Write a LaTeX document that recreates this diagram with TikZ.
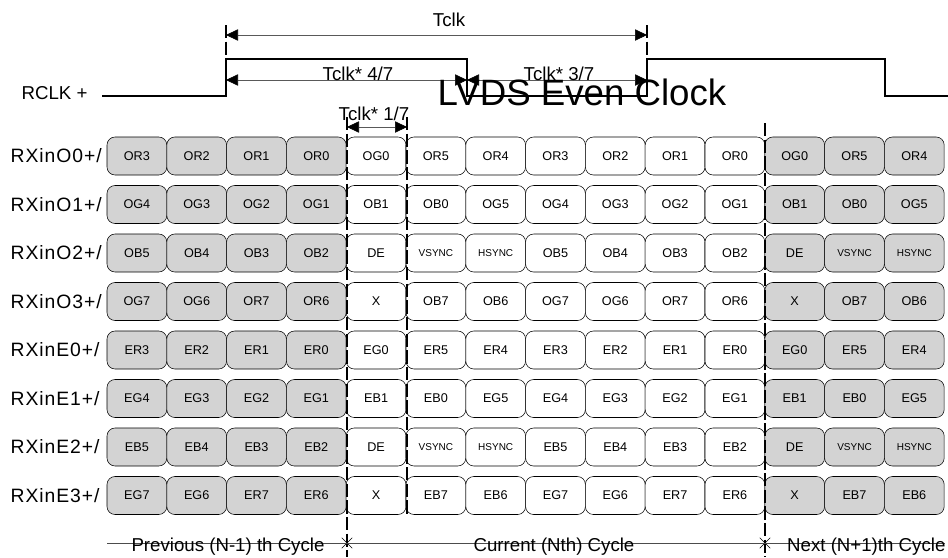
\documentclass[tikz,border=0pt]{standalone}
\usepackage{fontspec}
\setmainfont{Liberation Sans}
\usetikzlibrary{arrows.meta,positioning,calc,shapes.misc}
\definecolor{cellgray}{HTML}{D3D3D3}
\newcommand\syncfont{\fontsize{7.5}{8}\selectfont}
\newcommand\VS{{\syncfont VSYNC}}
\newcommand\HS{{\syncfont HSYNC}}

\begin{document}
\begin{tikzpicture}[x=0.75pt, y=-0.75pt,
  cell/.style={draw, rounded corners=6pt, minimum width=44.85pt, minimum height=28.5pt, inner sep=0pt, font=\fontsize{9.5}{10}\selectfont},
  sig/.style={font=\fontsize{14}{16}\selectfont, inner sep=1pt},
  lane/.style={font=\fontsize{14.5}{16}\selectfont\addfontfeatures{LetterSpace=5}, inner sep=1pt},
  tick/.style={line width=1.6pt, dash pattern=on 10pt off 2.5pt},
  dim/.style={{Triangle[length=9pt,width=8.5pt,color=black]}-{Triangle[length=9pt,width=8.5pt,color=black]}, black!65},
  wave/.style={line width=0.8pt},
  cyc/.style={draw, cross out, minimum size=7.5pt, inner sep=0pt},
]
\useasboundingbox (0,0) rectangle (948,557);

% === RCLK WAVEFORM ===
\node[sig, anchor=west] (rclk) at (20,93) {RCLK +};
\draw[wave] (102,96) -- (226,96) |- (467,59) |- (647,96) |- (885,59) |- (948,96);
\draw[tick] (226,25) -- (226,96);
\draw[tick] (647,25) -- (647,82);

\coordinate (k0) at (226,35);
\coordinate (k7) at (647,35);
\coordinate (h0) at (226,80);
\coordinate (h4) at (467,80);
\coordinate (h7) at (647,80);
\draw[dim] (k0) -- (k7);
\draw[dim] (h0) -- (h4);
\draw[dim] (h4) -- (h7);
\node[sig, anchor=base] (tclk) at (449,26) {Tclk};
\node[sig, anchor=base] (tfour) at (358,80) {Tclk* 4/7};
\node[sig, anchor=base] (tthree) at (559,80) {Tclk* 3/7};
\node[font=\fontsize{27.5}{30}\selectfont, anchor=base] (title) at (582,105) {LVDS Even Clock};

% === DATA LANES ===
\foreach \r/\nm/\row in {
  0/O0/{OR3,OR2,OR1,OR0,OG0,OR5,OR4,OR3,OR2,OR1,OR0,OG0,OR5,OR4},
  1/O1/{OG4,OG3,OG2,OG1,OB1,OB0,OG5,OG4,OG3,OG2,OG1,OB1,OB0,OG5},
  2/O2/{OB5,OB4,OB3,OB2,DE,\VS,\HS,OB5,OB4,OB3,OB2,DE,\VS,\HS},
  3/O3/{OG7,OG6,OR7,OR6,X,OB7,OB6,OG7,OG6,OR7,OR6,X,OB7,OB6},
  4/E0/{ER3,ER2,ER1,ER0,EG0,ER5,ER4,ER3,ER2,ER1,ER0,EG0,ER5,ER4},
  5/E1/{EG4,EG3,EG2,EG1,EB1,EB0,EG5,EG4,EG3,EG2,EG1,EB1,EB0,EG5},
  6/E2/{EB5,EB4,EB3,EB2,DE,\VS,\HS,EB5,EB4,EB3,EB2,DE,\VS,\HS},
  7/E3/{EG7,EG6,ER7,ER6,X,EB7,EB6,EG7,EG6,ER7,ER6,X,EB7,EB6}} {
  \node[lane, anchor=west] (l\nm) at (9,156+48.5*\r) {RXin\nm+/};
  \foreach \lab [count=\c from 0] in \row {
    \ifnum\c<4 \def\fl{cellgray}\else\ifnum\c>10 \def\fl{cellgray}\else\def\fl{white}\fi\fi
    \node[cell, fill=\fl] (c\r-\c) at (136.9+59.8*\c,156+48.5*\r) {\lab};
  }
}

% === CYCLE BOUNDARIES ===
\draw[tick] (347,117) -- (347,557);
\draw[tick] (407,117) -- (407,515);
\draw[tick] (765,123) -- (765,557);
\coordinate (q0) at (347,127);
\coordinate (q1) at (407,127);
\draw[dim] (q0) -- (q1);
\node[sig, anchor=base] (tone) at (374,120) {Tclk* 1/7};

\coordinate (b0) at (107,543);
\coordinate (b1) at (945,543);
\node[cyc] (x1) at (347,543) {};
\node[cyc] (x2) at (765,543) {};
\draw[black!70] (b0) -- (x1.center) -- (x2.center) -- (b1);
\node[sig, anchor=base] (prev) at (228,551) {Previous (N-1) th Cycle};
\node[sig, anchor=base] (curr) at (554,551) {Current (Nth) Cycle};
\node[sig, anchor=base east] (next) at (947,551) {Next (N+1)th Cycle};
\end{tikzpicture}
\end{document}
